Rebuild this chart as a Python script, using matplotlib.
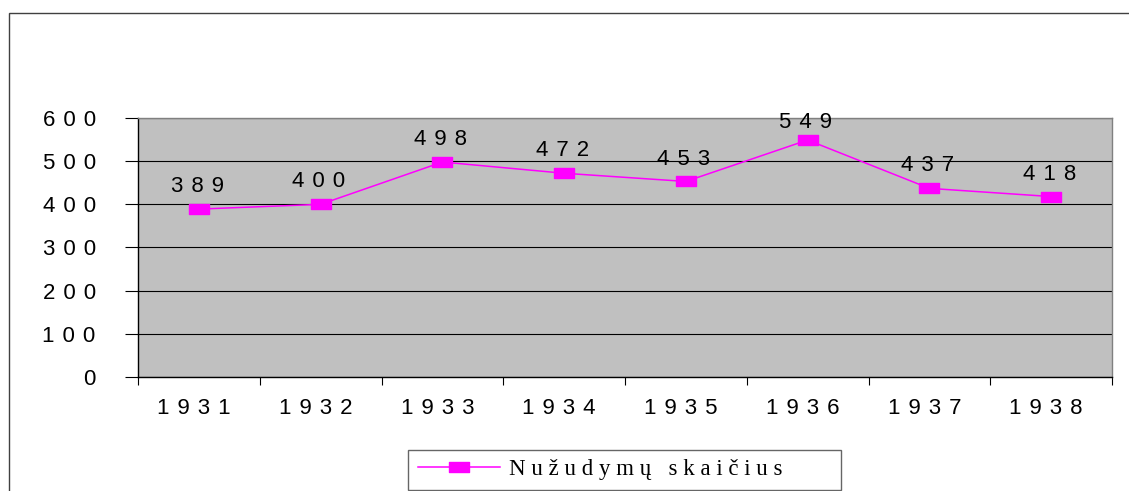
import matplotlib
matplotlib.use("Agg")
import matplotlib.pyplot as plt
import matplotlib.transforms as mtransforms
from matplotlib.patches import Rectangle
from matplotlib.path import Path
import numpy as np

years = ["1931", "1932", "1933", "1934", "1935", "1936", "1937", "1938"]
killings = [389, 400, 498, 472, 453, 549, 437, 418]
y_ticks = [0, 100, 200, 300, 400, 500, 600]
series_name = "Nužudymų skaičius"

W, H = 1129, 491
SP = " \u200a"  # wide gap between characters, like the original


def spaced(s, sep=SP):
    return sep.join(list(s))


plt.rcParams["font.family"] = ["Liberation Sans", "DejaVu Sans"]

fig = plt.figure(figsize=(W / 100, H / 100), dpi=100)

# outer chart frame (cut off on the right and bottom)
fig.patches.append(Rectangle((9 / W, -0.05), 1.2, (H - 13) / H + 0.05,
                             transform=fig.transFigure, fill=False,
                             edgecolor="#404040", linewidth=1.0))

# plot area in pixels
left, right, top, bottom = 138, 1112, 118, 377
ax = fig.add_axes([left / W, 1 - bottom / H, (right - left) / W, (bottom - top) / H])
ax.set_facecolor("#C0C0C0")

x = np.arange(len(years))
box = Path([(-1, -0.55), (1, -0.55), (1, 0.55), (-1, 0.55), (-1, -0.55)],
           [Path.MOVETO, Path.LINETO, Path.LINETO, Path.LINETO, Path.CLOSEPOLY])
ax.plot(x, killings, color="#FF00FF", linewidth=1.1, marker=box,
        markersize=14, markerfacecolor="#FF00FF", markeredgecolor="#FF00FF",
        label=spaced(series_name, " "), zorder=3)

# value labels above the points, kept inside the plot area
for xi, v in zip(x, killings):
    ax.text(xi - 0.015, min(v + 52, 590), spaced(str(v)),
            ha="center", va="center", fontsize=16, color="black")

ax.set_xlim(-0.5, len(years) - 0.5)
ax.set_ylim(0, 600)
ax.set_yticks(y_ticks)
ax.set_yticklabels([spaced(str(t)) for t in y_ticks], fontsize=16)
ax.yaxis.grid(True, color="black", linewidth=0.8)
ax.set_axisbelow(True)

ax.set_xticks(x)
ax.set_xticklabels([spaced(y) for y in years], fontsize=16)
ax.set_xticks(np.arange(len(years) + 1) - 0.5, minor=True)
ax.tick_params(axis="x", which="major", length=0, pad=15)
ax.tick_params(axis="x", which="minor", length=6, width=0.8, direction="out")
ax.tick_params(axis="y", length=9.5, width=0.8, pad=21)

# year labels sit a little left of the category centre in the original
shift = mtransforms.ScaledTranslation(-5 / 100, 0, fig.dpi_scale_trans)
for lbl in ax.get_xticklabels():
    lbl.set_transform(lbl.get_transform() + shift)

ax.spines["left"].set_color("black")
ax.spines["bottom"].set_color("black")
ax.spines["top"].set_color("#808080")
ax.spines["right"].set_color("#808080")
for s in ax.spines.values():
    s.set_linewidth(1.0)

leg = fig.legend(loc="lower left", bbox_to_anchor=(408 / W, 1 / H, (841 - 408) / W, (490 - 450) / H),
                 mode="expand", frameon=True, fancybox=False, handlelength=3.6,
                 handletextpad=0.4, borderaxespad=0,
                 prop={"family": "Liberation Serif", "size": 16.5}, borderpad=0.42)
leg.get_frame().set_edgecolor("#404040")
leg.get_frame().set_linewidth(1.0)

fig.savefig("out.png", dpi=100)
